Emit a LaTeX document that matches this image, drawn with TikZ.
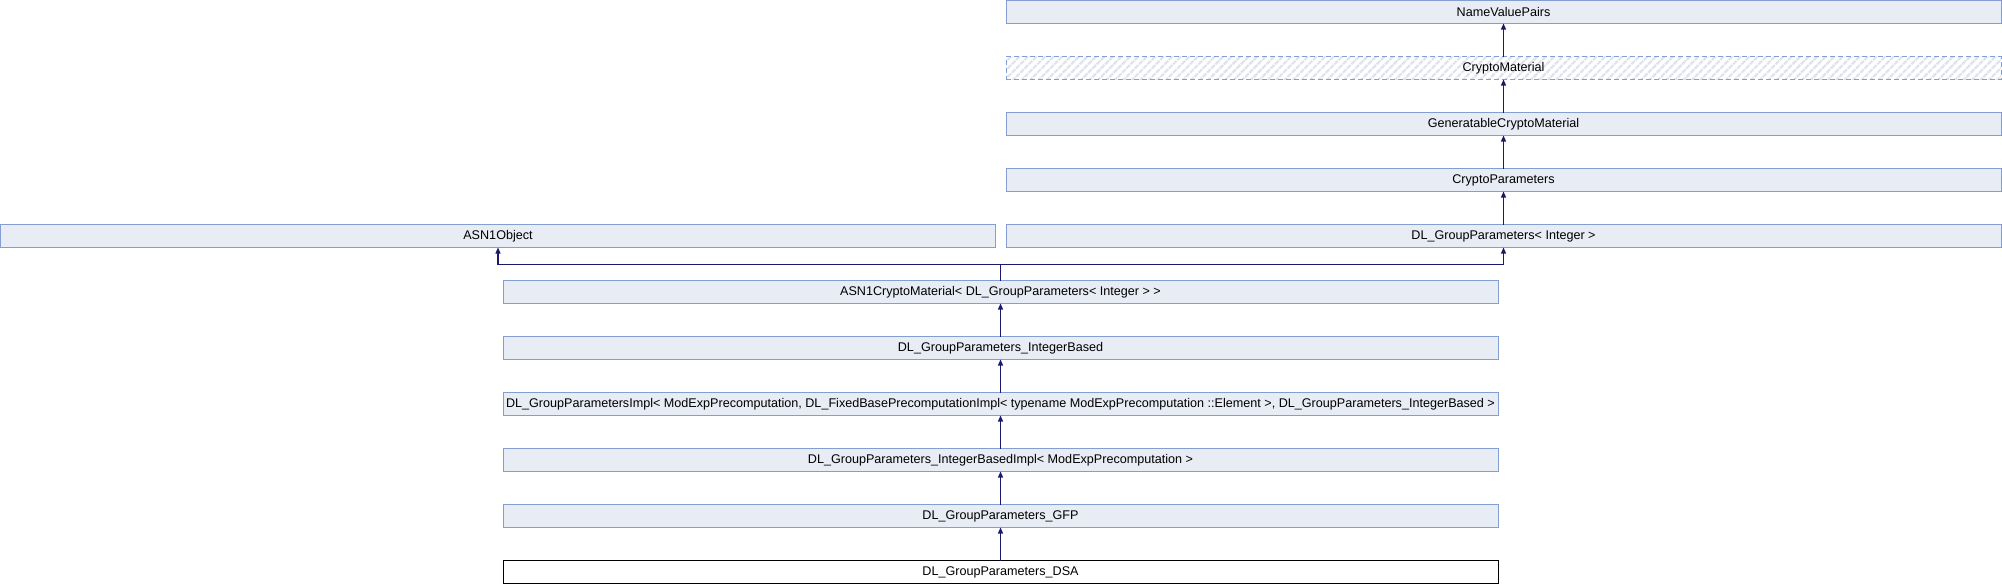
\documentclass[tikz,border=0pt]{standalone}
\usepackage{fontspec}
\setmainfont{Liberation Sans}
\usetikzlibrary{arrows.meta,patterns.meta}
\definecolor{boxfill}{RGB}{232,236,244}
\definecolor{boxline}{RGB}{132,158,212}
\definecolor{linkc}{RGB}{25,25,112}
\definecolor{hatchc}{RGB}{222,227,238}
\begin{document}
\begin{tikzpicture}[x=1pt,y=-1pt,
  cls/.style={draw=boxline,fill=boxfill,line width=1pt,minimum width=995pt,minimum height=23pt,inner sep=0pt,outer sep=0pt,font=\fontsize{12.6}{14}\selectfont},
  virt/.style={cls,dashed,dash pattern=on 5pt off 3pt,fill=none,preaction={fill=white},pattern={Lines[angle=45,distance=6pt,line width=2.2pt]},pattern color=hatchc},
  cur/.style={cls,draw=black,fill=white},
  inh/.style={draw=linkc,line width=1.2pt,-{Triangle[width=5pt,length=6pt]}}]
\useasboundingbox (0,0) rectangle (2002,584);
\node[cls]  (nvp)  at (1503.5,12)  {NameValuePairs};
\node[virt] (cm)   at (1503.5,68)  {CryptoMaterial};
\node[cls]  (gcm)  at (1503.5,124) {GeneratableCryptoMaterial};
\node[cls]  (cp)   at (1503.5,180) {CryptoParameters};
\node[cls]  (asn)  at (498,236)    {ASN1Object};
\node[cls]  (dlgp) at (1503.5,236) {DL\_GroupParameters< Integer >};
\node[cls]  (acm)  at (1000.5,292) {ASN1CryptoMaterial< DL\_GroupParameters< Integer > >};
\node[cls]  (ib)   at (1000.5,348) {DL\_GroupParameters\_IntegerBased};
\node[cls]  (impl) at (1000.5,404) {DL\_GroupParametersImpl< ModExpPrecomputation, DL\_FixedBasePrecomputationImpl< typename ModExpPrecomputation ::Element >, DL\_GroupParameters\_IntegerBased >};
\node[cls]  (ibi)  at (1000.5,460) {DL\_GroupParameters\_IntegerBasedImpl< ModExpPrecomputation >};
\node[cls]  (gfp)  at (1000.5,516) {DL\_GroupParameters\_GFP};
\node[cur]  (dsa)  at (1000.5,572) {DL\_GroupParameters\_DSA};
\coordinate (mrg) at (1000.5,264.5);
\draw[inh] (cm.north) -- (nvp.south);
\draw[inh] (gcm.north) -- (cm.south);
\draw[inh] (cp.north) -- (gcm.south);
\draw[inh] (dlgp.north) -- (cp.south);
\draw[inh] (acm.north) -- (mrg) -| (asn.south);
\draw[inh] (mrg) -| (dlgp.south);
\draw[inh] (ib.north) -- (acm.south);
\draw[inh] (impl.north) -- (ib.south);
\draw[inh] (ibi.north) -- (impl.south);
\draw[inh] (gfp.north) -- (ibi.south);
\draw[inh] (dsa.north) -- (gfp.south);
\end{tikzpicture}
\end{document}
